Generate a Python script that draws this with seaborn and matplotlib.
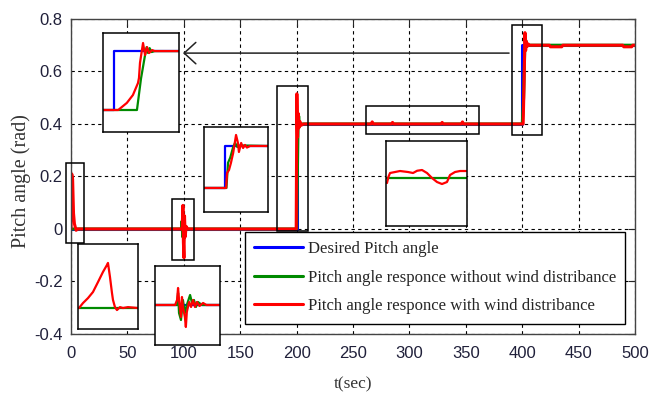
import matplotlib
matplotlib.use('Agg')
import matplotlib.pyplot as plt
import seaborn as sns
from matplotlib.patches import Rectangle

# main traces
t_desired = [0, 200, 200, 400, 400, 500]
y_desired = [0, 0, 0.4, 0.4, 0.7, 0.7]

t_nowind = [0, 97.8, 98.4, 99.0, 99.6, 100.3, 101, 102, 103, 200, 200.6, 201.2, 201.8, 202.5, 203.5,
            400, 401.2, 402.2, 403.0, 403.6, 404.4, 500]
y_nowind = [0, 0, 0.03, -0.03, 0.02, -0.02, 0.01, 0, 0, 0, 0.2, 0.38, 0.43, 0.39, 0.4,
            0.4, 0.5, 0.68, 0.72, 0.695, 0.7, 0.7]

t_wind = [0, 0.6, 1.4, 2.2, 3.0, 4.5, 6,
          98.5, 99.2, 99.6, 100.1, 100.6, 101.2, 102, 103.5,
          199.6, 200.2, 200.8, 201.4, 202.0, 202.8, 204, 206,
          266, 267, 268, 284, 285, 286, 328, 329, 330, 346, 347, 348,
          400.8, 401.6, 402.4, 403.0, 403.6, 404.3, 405.2, 406.5,
          424, 425, 435, 436, 489, 490, 497, 498, 500]
y_wind = [0, 0.21, 0.19, 0.06, 0.02, -0.005, 0,
          0, 0.09, -0.05, -0.11, 0.05, -0.03, 0.01, 0,
          0, 0.515, 0.35, 0.44, 0.385, 0.41, 0.395, 0.4,
          0.4, 0.408, 0.4, 0.4, 0.406, 0.4, 0.4, 0.406, 0.4, 0.4, 0.408, 0.4,
          0.4, 0.55, 0.748, 0.68, 0.715, 0.695, 0.705, 0.7,
          0.7, 0.694, 0.694, 0.7, 0.7, 0.694, 0.694, 0.7, 0.7]

labels = ['Desired Pitch angle',
          'Pitch angle responce without wind distribance',
          'Pitch angle responce with wind distribance']

x_ticks = [0, 50, 100, 150, 200, 250, 300, 350, 400, 450, 500]
y_ticks = [-0.4, -0.2, 0, 0.2, 0.4, 0.6, 0.8]
y_ticklabels = ['-0.4', '-0.2', '0', '0.2', '0.4', '0.6', '0.8']

# zoom windows marked on the main plot (t0, t1, y0, y1)
zoom_boxes = [(-4.4, 11.5, -0.053, 0.251),
              (89.5, 109.0, -0.118, 0.114),
              (182.6, 210.1, -0.008, 0.545),
              (261.5, 361.7, 0.362, 0.469),
              (391.0, 417.6, 0.358, 0.777)]

# inset A: step at 400
a_blue_t = [397.8, 400.0, 400.0, 412.8]
a_blue_y = [0.4, 0.4, 0.7, 0.7]
a_green_t = [397.8, 404.5, 405.3, 406.1, 406.4, 406.7, 407.0, 407.4, 408.0, 412.8]
a_green_y = [0.4, 0.4, 0.56, 0.68, 0.72, 0.69, 0.715, 0.695, 0.7, 0.7]
a_red_t = [397.8, 400.8, 402.5, 403.7, 404.7, 404.9, 405.1, 405.7, 406.1, 406.5, 406.9, 407.5, 408.0, 412.8]
a_red_y = [0.4, 0.4, 0.436, 0.476, 0.537, 0.563, 0.64, 0.741, 0.68, 0.72, 0.69, 0.705, 0.7, 0.7]

# inset B: step at 200
b_blue_t = [193.4, 200.0, 200.0, 213.4]
b_blue_y = [0, 0, 0.4, 0.4]
b_green_t = [193.4, 200.4, 200.9, 201.6, 202.5, 203.1, 203.8, 204.6, 213.4]
b_green_y = [0, 0, 0.24, 0.29, 0.39, 0.43, 0.39, 0.405, 0.4]
b_red_t = [193.4, 200.3, 200.6, 201.2, 201.8, 202.5, 202.8, 203.4, 204.0, 204.3, 205.0, 205.6, 206.2,
           206.8, 207.8, 213.4]
b_red_y = [0, 0, 0.143, 0.171, 0.238, 0.333, 0.39, 0.505, 0.429, 0.343, 0.429, 0.381, 0.41,
           0.385, 0.4, 0.4]

# inset C: 0.4 plateau
c_green_t = [263, 362]
c_green_y = [0.4, 0.4]
c_red_t = [264.2, 266.0, 267.9, 274.0, 280.1, 285.0, 289.9, 296.0, 301.0, 307.0, 313.1, 319.2, 325.3,
           331.4, 337.5, 341.2, 347.3, 353.4, 360.8]
c_red_y = [0.396, 0.401, 0.404, 0.4048, 0.4056, 0.4052, 0.4048, 0.404, 0.4058, 0.4064, 0.404, 0.4, 0.3968,
           0.3952, 0.3968, 0.4024, 0.4048, 0.4056, 0.4056]

# inset D: start
d_green_t = [0, 6]
d_green_y = [0, 0]
d_red_t = [0.1, 0.5, 1.0, 1.5, 2.0, 2.5, 2.9, 3.0, 3.2, 3.4, 3.5, 3.7, 3.9, 4.2, 4.5, 5.0, 6.0]
d_red_y = [0, 0.022, 0.044, 0.071, 0.115, 0.16, 0.191, 0.2, 0.138, 0.067, 0.036, 0.004, -0.009,
           0.004, 0, 0.004, 0]

# inset E: disturbance at 100
e_blue_t = [90, 110]
e_blue_y = [0, 0]
e_green_t = [90, 96.8, 97.1, 97.4, 98.0, 98.6, 99.2, 99.8, 100.8, 101.4, 102.0, 102.6, 103.2, 104.5, 110]
e_green_y = [0, 0, 0.03, -0.02, -0.0375, 0.0125, -0.02, 0, 0.025, 0.005, 0.0125, -0.005, 0.0075, 0, 0]
e_red_t = [90, 96.2, 96.8, 97.1, 97.4, 98.0, 98.3, 98.6, 99.2, 99.5, 99.8, 100.5, 101.1, 101.7, 102.3,
           102.9, 103.7, 104.8, 105.8, 110]
e_red_y = [0, 0, 0.0125, 0.0425, 0.0125, -0.03, 0.02, -0.005, -0.03, -0.055, -0.0175, 0.0075, -0.005,
           0.0125, -0.005, 0.0075, -0.0025, 0.005, 0, 0]

BLUE, GREEN, RED = '#0000ff', '#008a00', '#ff0000'

sns.set_style('white')
plt.rcParams['font.family'] = ['Liberation Serif', 'DejaVu Serif']

fig = plt.figure(figsize=(6.62, 3.97), dpi=100)
ax = fig.add_axes([0.1073, 0.1587, 0.852, 0.7935])

sns.lineplot(x=t_desired, y=y_desired, ax=ax, color=BLUE, lw=2.2, sort=False, estimator=None, label=labels[0])
sns.lineplot(x=t_nowind, y=y_nowind, ax=ax, color=GREEN, lw=2.2, sort=False, estimator=None, label=labels[1])
sns.lineplot(x=t_wind, y=y_wind, ax=ax, color=RED, lw=2.2, sort=False, estimator=None, label=labels[2])

ax.set_xlim(0, 500)
ax.set_ylim(-0.4, 0.8)
ax.set_xticks(x_ticks)
ax.set_xticklabels([str(v) for v in x_ticks])
ax.set_yticks(y_ticks)
ax.set_yticklabels(y_ticklabels)
ax.grid(True, color='k', linestyle=(0, (3, 3)), lw=0.8)
ax.set_axisbelow(True)
ax.tick_params(direction='in', top=True, right=True, length=5, width=0.8,
               labelsize=12, labelcolor='#20203a')
ax.tick_params(axis='x', pad=9)
ax.tick_params(axis='y', pad=6)
for lab in ax.get_xticklabels() + ax.get_yticklabels():
    lab.set_family(['Liberation Sans Narrow', 'Liberation Sans'])
for s in ax.spines.values():
    s.set_color('#444444')
    s.set_linewidth(1.0)

ax.set_xlabel('t(sec)', fontsize=12.5, color='#333333')
ax.xaxis.set_label_coords(0.5, -0.135)
ax.set_ylabel('Pitch angle (rad)', fontsize=14.5, color='#333333')
ax.yaxis.set_label_coords(-0.071, 0.485)

for t0, t1, y0, y1 in zoom_boxes:
    ax.add_patch(Rectangle((t0, y0), t1 - t0, y1 - y0, fill=False, ec='k', lw=1.1,
                           zorder=5, clip_on=False))

ax.annotate('', xy=(99.3, 0.67), xytext=(388.3, 0.67),
            arrowprops=dict(arrowstyle='->,head_length=0.6,head_width=0.55', color='#222222',
                            lw=1.1, mutation_scale=14, shrinkA=0, shrinkB=0))

leg = ax.legend(loc='upper left', bbox_to_anchor=(0.370, 0.416), bbox_transform=fig.transFigure,
                frameon=True, fancybox=False, edgecolor='k', framealpha=1,
                prop=dict(family='Liberation Serif', size=12.1), handlelength=2.9,
                handletextpad=0.3, labelspacing=0.75, borderpad=0.55, borderaxespad=0)
leg.get_frame().set_linewidth(1.0)


def inset(rect, xlim, ylim, traces):
    iax = fig.add_axes(rect, zorder=3)
    iax.set_facecolor('white')
    for tx, ty, c in traces:
        sns.lineplot(x=tx, y=ty, ax=iax, color=c, lw=1.6, sort=False, estimator=None)
    iax.set_xlim(xlim)
    iax.set_ylim(ylim)
    iax.set_xticks([])
    iax.set_yticks([])
    iax.set(xlabel='', ylabel='')
    for s in iax.spines.values():
        s.set_color('k')
        s.set_linewidth(1.1)
    return iax


inset([0.1556, 0.6675, 0.1148, 0.2494], (397.8, 412.8), (0.288, 0.792),
      [(a_blue_t, a_blue_y, BLUE), (a_green_t, a_green_y, GREEN), (a_red_t, a_red_y, RED)])
inset([0.3082, 0.4660, 0.0967, 0.2141], (193.4, 213.4), (-0.229, 0.581),
      [(b_blue_t, b_blue_y, BLUE), (b_green_t, b_green_y, GREEN), (b_red_t, b_red_y, RED)])
inset([0.5831, 0.4307, 0.1224, 0.2141], (263, 362), (0.3616, 0.4296),
      [(c_green_t, c_green_y, GREEN), (c_red_t, c_red_y, RED)])
inset([0.1178, 0.1713, 0.0906, 0.2141], (0, 6), (-0.093, 0.284),
      [(d_green_t, d_green_y, GREEN), (d_red_t, d_red_y, RED)])
inset([0.2341, 0.1310, 0.0982, 0.1990], (90, 110), (-0.1, 0.0975),
      [(e_blue_t, e_blue_y, BLUE), (e_green_t, e_green_y, GREEN), (e_red_t, e_red_y, RED)])

fig.savefig('out.png', dpi=100, facecolor='white')
